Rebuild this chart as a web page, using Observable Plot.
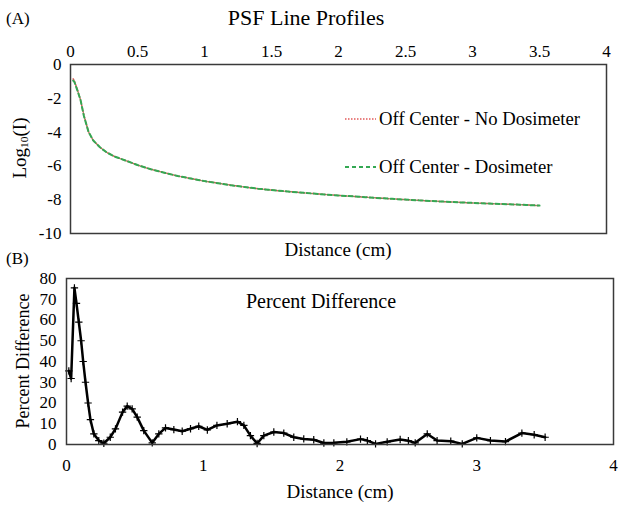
<!DOCTYPE html>
<html><head><meta charset="utf-8">
<script src="https://cdn.jsdelivr.net/npm/d3@7"></script>
<script src="https://cdn.jsdelivr.net/npm/@observablehq/plot@0.6"></script>
<style>
body{margin:0;background:#fff;}
#wrap{position:relative;width:624px;height:509px;font-family:"Liberation Serif","Times New Roman",serif;color:#000;overflow:hidden;}
.t{position:absolute;white-space:nowrap;line-height:1;}
.p{position:absolute;left:0;}
</style></head><body><div id="wrap"></div>
<script>
// ---- Panel A: PSF line profiles (log10 intensity vs distance)
const psfDistance = [0.02,0.03,0.05,0.075,0.1,0.135,0.17,0.22,0.27,0.33,0.4,0.5,0.6,0.7,0.8,0.9,1.0,1.1,1.2,1.3,1.4,1.5,1.6,1.8,2.0,2.2,2.4,2.6,2.8,3.0,3.2,3.4,3.5];
const noDosimeter = [-0.85,-1.0,-1.45,-2.1,-3.0,-4.0,-4.5,-4.9,-5.2,-5.45,-5.65,-5.95,-6.2,-6.4,-6.6,-6.75,-6.9,-7.02,-7.14,-7.25,-7.35,-7.43,-7.5,-7.63,-7.75,-7.85,-7.95,-8.04,-8.12,-8.19,-8.25,-8.31,-8.35];
const dosimeter   = [-0.95,-1.05,-1.5,-2.1,-3.05,-4.0,-4.5,-4.9,-5.2,-5.45,-5.65,-5.95,-6.2,-6.4,-6.6,-6.75,-6.9,-7.02,-7.15,-7.25,-7.35,-7.43,-7.5,-7.63,-7.75,-7.85,-7.95,-8.04,-8.12,-8.19,-8.25,-8.31,-8.35];
const topXTicks = [0,0.5,1,1.5,2,2.5,3,3.5,4];
const topYTicks = [0,-2,-4,-6,-8,-10];
const seriesNames = ["Off Center - No Dosimeter","Off Center - Dosimeter"];

// ---- Panel B: percent difference
const diffDistance = [0.017,0.034,0.058,0.073,0.09,0.107,0.122,0.139,0.158,0.175,0.2,0.236,0.273,0.32,0.358,0.41,0.444,0.48,0.517,0.565,0.627,0.675,0.724,0.785,0.846,0.907,0.967,1.03,1.1,1.175,1.25,1.297,1.345,1.394,1.443,1.516,1.589,1.662,1.735,1.808,1.882,1.955,2.05,2.15,2.2,2.26,2.345,2.44,2.5,2.55,2.638,2.71,2.81,2.894,3.0,3.1,3.21,3.33,3.42,3.5];
const percentDiff  = [35.5,31.8,75.5,68,59,50,40,30,20,12,5.1,1.9,0.6,3.5,7.5,15.6,18.5,17.2,13.2,6.7,0.8,5.1,8,7.2,6.4,7.6,8.8,7,9.2,10,11,9.2,4.3,0.5,4.3,6,5.5,3.5,2.7,2.3,0.7,0.8,1.3,2.6,1.9,0.3,1.3,2.4,1.8,0.8,5.1,1.9,1.6,0.3,3.2,1.9,1.4,5.5,4.7,3.5];
const botXTicks = [0,1,2,3,4];
const botYTicks = [0,10,20,30,40,50,60,70,80];

const colors = {red:"#e25a5a", green:"#34a853", frame:"#3a3a3a"};
const FONT = '"Liberation Serif","Times New Roman",serif';

const rowsA = psfDistance.map((d,i)=>({d, nd:noDosimeter[i], dd:dosimeter[i]}));
const rowsB = diffDistance.map((d,i)=>({d, v:percentDiff[i]}));

const wrap = document.getElementById("wrap");
const fmt = d => String(d);

const plotA = Plot.plot({
  width:624, height:258, marginTop:64, marginBottom:25, marginLeft:70, marginRight:18,
  style:{fontFamily:FONT, fontSize:"17px", background:"transparent", color:"#000", overflow:"visible"},
  x:{domain:[0,4]}, y:{domain:[-10,0]},
  marks:[
    Plot.axisX({anchor:"top", ticks:topXTicks, tickSize:0, tickPadding:8, label:null, tickFormat:fmt}),
    Plot.axisY({ticks:topYTicks, tickSize:0, tickPadding:9, label:null, tickFormat:fmt}),
    Plot.line(rowsA, {x:"d", y:"nd", stroke:colors.red, strokeWidth:1.5, strokeDasharray:"1.5,1.5"}),
    Plot.line(rowsA, {x:"d", y:"dd", stroke:colors.green, strokeWidth:2, strokeDasharray:"4,3"}),
    Plot.frame({stroke:colors.frame, strokeWidth:1.5})
  ]
});
plotA.classList.add("p"); plotA.style.top = "0px";
wrap.appendChild(plotA);

const plotB = Plot.plot({
  width:624, height:251, marginTop:20, marginBottom:65, marginLeft:66, marginRight:11,
  style:{fontFamily:FONT, fontSize:"17px", background:"transparent", color:"#000", overflow:"visible"},
  x:{domain:[0,4]}, y:{domain:[0,80]},
  marks:[
    Plot.axisX({ticks:botXTicks, tickSize:0, tickPadding:14, label:null, tickFormat:fmt}),
    Plot.axisY({ticks:botYTicks, tickSize:0, tickPadding:10, label:null, tickFormat:fmt}),
    Plot.line(rowsB, {x:"d", y:"v", stroke:"#000", strokeWidth:2.5}),
    Plot.dot(rowsB, {x:"d", y:"v", symbol:"plus", r:2.5, stroke:"#000", strokeWidth:1.2}),
    Plot.frame({stroke:colors.frame, strokeWidth:1.5})
  ]
});
plotB.classList.add("p"); plotB.style.top = "258px";
wrap.appendChild(plotB);

function txt(s, x, y, size, opts={}){
  const el = document.createElement("div");
  el.className = "t";
  el.innerHTML = s;
  el.style.fontSize = size+"px";
  el.style.left = x+"px"; el.style.top = y+"px";
  const ax = opts.anchor==="start" ? "0" : "-50%";
  el.style.transform = `translate(${ax},-50%)` + (opts.rotate ? ` rotate(${opts.rotate}deg)` : "");
  wrap.appendChild(el);
  return el;
}
txt("(A)", 6, 18, 17, {anchor:"start"});
txt("PSF Line Profiles", 306, 18, 22);
txt("Distance (cm)", 338, 249, 19);
txt("Log<sub style='font-size:0.6em;vertical-align:-0.15em'>10</sub>(I)", 20, 148, 19, {rotate:-90});
txt("(B)", 6, 258, 17, {anchor:"start"});
txt("Percent Difference", 321, 301, 20);
txt("Percent Difference", 23, 361, 18, {rotate:-90});
txt("Distance (cm)", 340, 491, 19);

// legend (panel A)
const leg = document.createElementNS("http://www.w3.org/2000/svg","svg");
leg.setAttribute("width","624"); leg.setAttribute("height","258");
leg.style.position="absolute"; leg.style.left="0"; leg.style.top="0";
leg.innerHTML = `<line x1="345" x2="376" y1="119" y2="119" stroke="${colors.red}" stroke-width="1.5" stroke-dasharray="1.5,1.5"/>
<line x1="345" x2="376" y1="167" y2="167" stroke="${colors.green}" stroke-width="2" stroke-dasharray="4,3"/>`;
wrap.appendChild(leg);
txt(seriesNames[0], 379, 119, 18.7, {anchor:"start"});
txt(seriesNames[1], 379, 167, 18.7, {anchor:"start"});
</script></body></html>
